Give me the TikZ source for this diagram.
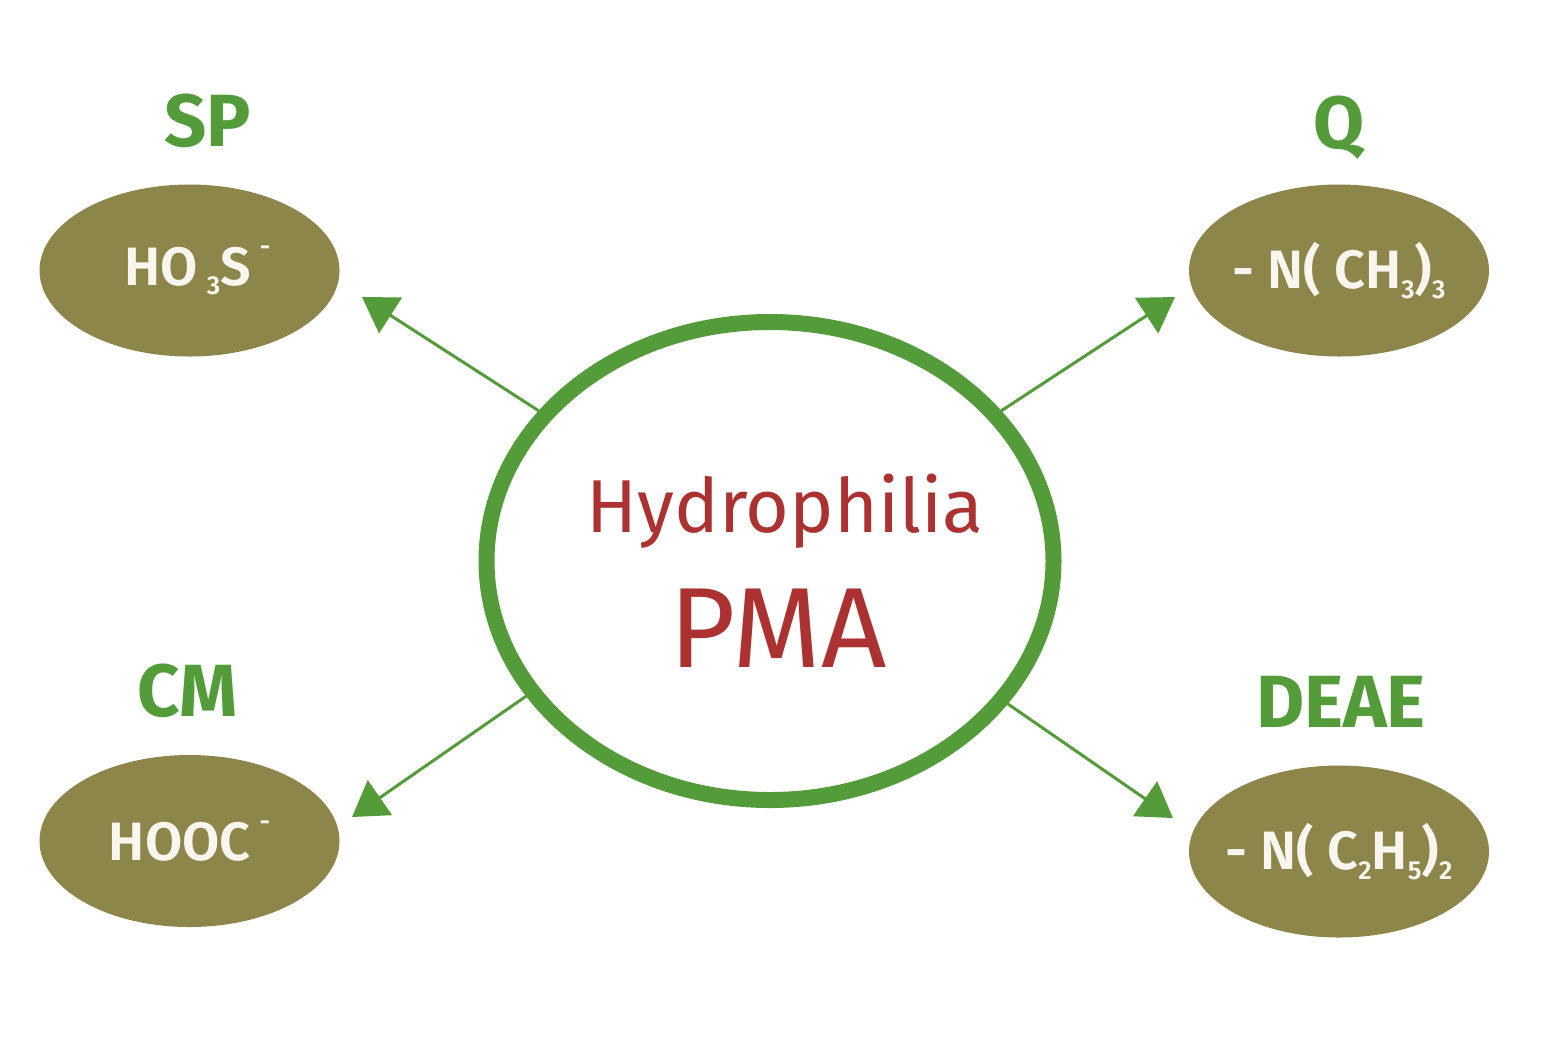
\documentclass[tikz,border=0pt]{standalone}
\usepackage{fontspec}
\setmainfont{Fira Sans}
\newfontfamily\resinfont{Fira Sans SemiBold}
\usepackage{xcolor}
\usepackage{tikz}
\usetikzlibrary{arrows.meta, positioning, shapes.geometric}

\definecolor{leafgreen}{HTML}{549B3A}
\definecolor{resin}{HTML}{8D864B}
\definecolor{pmared}{HTML}{AC3131}
\definecolor{chalk}{HTML}{F8F6EE}

% small indices of the formulas
\newcommand\chsub[1]{\raisebox{-0.18em}{\fontsize{13}{13}\selectfont#1}}
\newcommand\chsup[1]{\raisebox{0.55em}{\fontsize{13}{13}\selectfont#1}}

\begin{document}
\begin{tikzpicture}[x=0.5pt, y=-0.5pt, node distance=75pt, on grid,
    group/.style={ellipse, fill=resin, minimum width=150pt, minimum height=86pt, inner xsep=-25pt, inner ysep=0pt,
        text=chalk, font=\fontsize{27}{30}\selectfont\resinfont},
    title/.style={inner sep=0pt, text=leafgreen, font=\fontsize{37}{40}\selectfont\bfseries},
    ligand/.style={-{Triangle[length=17pt, width=21pt]}, draw=leafgreen, line width=1.5pt}]
        \useasboundingbox (0,0) rectangle (1553,1062);

        \node[ellipse, draw=leafgreen, line width=8pt, minimum width=283.5pt, minimum height=239pt] (pma) at (770,561) {};
        \node[anchor=base, inner sep=0pt, text=pmared, font=\fontsize{37.5}{42}\selectfont] (hydroT) at (785,532) {Hydrophilia};
        \node[anchor=base, inner sep=0pt, text=pmared, font=\fontsize{57}{60}\selectfont] (pmaT) at (778,667) {PMA};

        \node[group] (sp) at (189.5,270.5) {\hspace{8pt}HO\,\chsub{3}S\,\chsup{-}};
        \node[group] (q) at (1339,270.5) {- N( CH\chsub{3})\chsub{3}};
        \node[group] (cm) at (189.5,841) {HOOC\,\chsup{-}};
        \node[group] (deae) at (1339,851.5) {- N( C\chsub{2}H\chsub{5})\chsub{2}};

        \node[title] (spT) [above=75pt of sp, xshift=9pt] {SP};
        \node[title] (qT) [above=71.5pt of q] {Q};
        \node[title] (cmT) [above=75pt of cm, xshift=-1pt] {CM};
        \node[title] (deaeT) [above=75pt of deae, xshift=1pt] {DEAE};

        \coordinate (spTip) at (362,297);
        \coordinate (qTip) at (1175,297);
        \coordinate (cmTip) at (352,817);
        \coordinate (deaeTip) at (1173,818);

        \draw[ligand] (pma.147) -- (spTip);
        \draw[ligand] (pma.33) -- (qTip);
        \draw[ligand] (pma.209) -- (cmTip);
        \draw[ligand] (pma.329) -- (deaeTip);
\end{tikzpicture}
\end{document}
